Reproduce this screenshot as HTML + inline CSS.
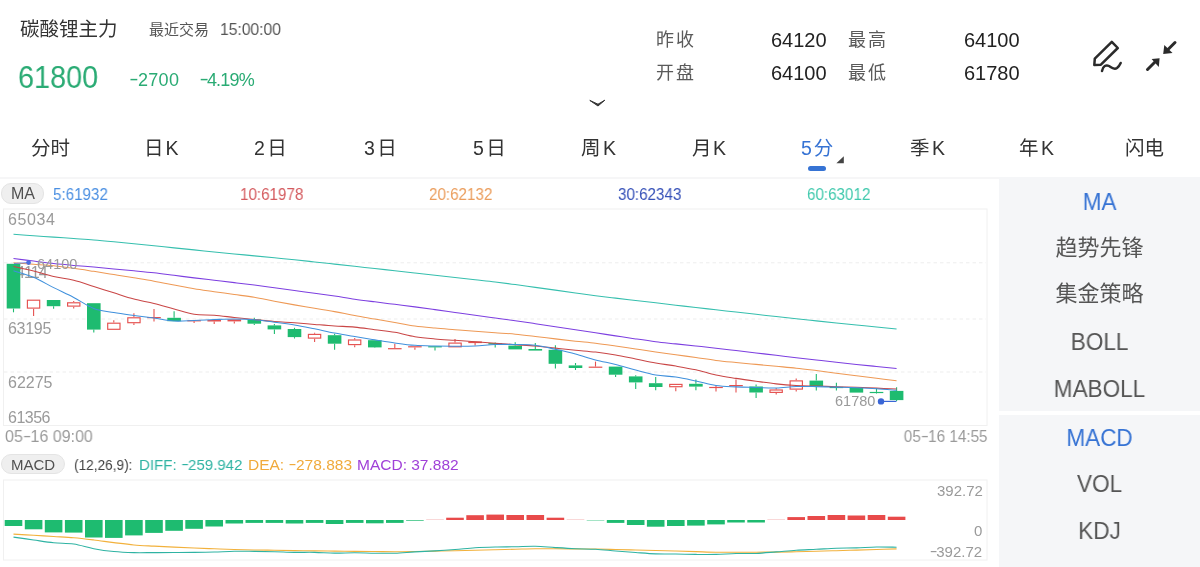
<!DOCTYPE html>
<html><head><meta charset="utf-8">
<style>
*{margin:0;padding:0;box-sizing:border-box}
html,body{width:1200px;height:567px;overflow:hidden;background:#fff}
.a,.tab,.si,.ylab{will-change:transform}
body{position:relative;font-family:"Liberation Sans","Noto Sans CJK SC",sans-serif;color:#333}
.a{position:absolute;white-space:nowrap;line-height:1}
.hy{display:inline-block;transform:scaleX(1.55);margin:0 0.05em 0 0.1em;position:relative;top:-0.06em}
.cj{font-family:"Liberation Sans","Noto Sans CJK SC",sans-serif}
.g{color:#2aab74}
.tab{position:absolute;top:137.2px;font-size:19.5px;line-height:22px;color:#333}
.side{position:absolute;left:999px;width:201px;background:#f5f6f8}
.si{position:absolute;left:999px;width:201px;text-align:center;font-size:23.5px;line-height:1;color:#555;transform:scaleX(0.96)}
.si.cj{font-size:22px;transform:none}
.pill{position:absolute;height:20px;border-radius:10px;background:#efefef;border:1px solid #e4e4e4;color:#444;font-size:15px;line-height:18px;text-align:center}
.ylab{position:absolute;font-size:16px;line-height:1;color:#9a9a9a}
.ml{top:457.4px;font-size:15.5px;transform-origin:0 0}
.lg{top:185.5px;font-size:16.5px;transform:scaleX(0.92);transform-origin:0 0}
</style></head><body>

<!-- header -->
<div class="a cj" id="title" style="left:20px;top:20.2px;font-size:19.5px;color:#333">碳酸锂主力</div>
<div class="a cj" id="zjjy" style="left:149px;top:22px;font-size:15px;color:#555">最近交易</div>
<div class="a" id="time" style="left:219.5px;top:21px;font-size:17px;color:#555;transform:scaleX(0.92);transform-origin:0 0">15:00:00</div>
<div class="a g" id="price" style="left:18.3px;top:62px;font-size:31.5px;transform:scaleX(0.916);transform-origin:0 0">61800</div>
<div class="a g" id="chg" style="left:128.5px;top:70.5px;font-size:18px;letter-spacing:0.3px"><span class="hy">-</span>2700</div>
<div class="a g" id="pct" style="left:199px;top:70.5px;font-size:18px;letter-spacing:-0.8px"><span class="hy">-</span>4.19%</div>

<div class="a cj" style="left:656px;top:31.4px;font-size:18px;letter-spacing:2px;color:#5a5a5a">昨收</div>
<div class="a" style="right:373px;top:29.8px;font-size:20px;color:#222">64120</div>
<div class="a cj" style="left:847.5px;top:31.4px;font-size:18px;letter-spacing:2px;color:#5a5a5a">最高</div>
<div class="a" style="right:180.6px;top:29.8px;font-size:20px;color:#222">64100</div>
<div class="a cj" style="left:655.5px;top:64.4px;font-size:18px;letter-spacing:2px;color:#5a5a5a">开盘</div>
<div class="a" style="right:373px;top:63.2px;font-size:20px;color:#222">64100</div>
<div class="a cj" style="left:847.5px;top:64.4px;font-size:18px;letter-spacing:2px;color:#5a5a5a">最低</div>
<div class="a" style="right:180.6px;top:63.2px;font-size:20px;color:#222">61780</div>

<!-- icons -->
<svg class="a" style="left:0;top:0" width="1200" height="120" viewBox="0 0 1200 120">
  <g fill="none" stroke="#2b2b2b" stroke-width="2.5" stroke-linejoin="round" stroke-linecap="round">
    <path d="M1094.3,65 L1094.8,58.6 L1111.8,41.8 L1117.8,48 L1100.9,64.7 Z"/>
    <path d="M1102,71 C1103,66 1106,64.5 1109,66 C1112,68 1114,70 1117,68 C1119,66.5 1120,64.5 1120.7,63"/>
  </g>
  <g stroke="#2b2b2b" stroke-width="3" stroke-linecap="round">
    <line x1="1175" y1="42.5" x2="1167" y2="50.5"/>
    <line x1="1147.5" y1="69.5" x2="1155.5" y2="61.5"/>
  </g>
  <g fill="#2b2b2b">
    <polygon points="1163.2,54 1164.3,45 1172.5,53"/>
    <polygon points="1159.6,58.2 1151.6,59 1158.8,67"/>
  </g>
  <path d="M589.8,100.4 L598,104.2 L604.8,100.2 L598,106 Z" fill="#333" stroke="#333" stroke-width="1" stroke-linejoin="round"/>
</svg>

<!-- tabs -->
<div class="tab cj" id="tab0" style="left:31.3px">分时</div>
<div class="tab cj" id="tab1" style="left:144.2px;letter-spacing:2px">日K</div>
<div class="tab cj" id="tab2" style="left:254.3px;letter-spacing:2.5px">2日</div>
<div class="tab cj" id="tab3" style="left:363.6px;letter-spacing:2.5px">3日</div>
<div class="tab cj" id="tab4" style="left:472.6px;letter-spacing:2.5px">5日</div>
<div class="tab cj" id="tab5" style="left:581.3px;letter-spacing:2.5px">周K</div>
<div class="tab cj" id="tab6" style="left:692.2px;letter-spacing:1.5px">月K</div>
<div class="tab cj" id="tab7" style="left:800.8px;letter-spacing:2px;color:#3673d4">5分</div>
<div class="tab cj" id="tab8" style="left:910px;letter-spacing:2.5px">季K</div>
<div class="tab cj" id="tab9" style="left:1019px;letter-spacing:2.5px">年K</div>
<div class="tab cj" id="tab10" style="left:1125.3px">闪电</div>
<div style="position:absolute;left:808px;top:166px;width:18px;height:4.5px;border-radius:2.5px;background:#3673d4"></div>
<svg class="a" style="left:836px;top:156px" width="9" height="8"><polygon points="7.8,0.3 7.8,7.3 0.4,7.3" fill="#444"/></svg>

<!-- separator -->
<div style="position:absolute;left:0;top:177px;width:1200px;height:2px;background:#f6f6f7"></div>

<!-- side panel -->
<div class="side" style="top:177px;height:233.5px"></div>
<div class="side" style="top:415px;height:152px"></div>
<div class="si" style="top:191.2px;color:#3673d4">MA</div>
<div class="si cj" style="top:237.2px">趋势先锋</div>
<div class="si cj" style="top:283.4px">集金策略</div>
<div class="si" style="top:331.2px">BOLL</div>
<div class="si" style="top:378px">MABOLL</div>
<div class="si" style="top:427.3px;color:#3673d4">MACD</div>
<div class="si" style="top:473.2px">VOL</div>
<div class="si" style="top:519.8px">KDJ</div>

<!-- MA legend -->
<div class="pill" style="left:1.2px;top:182.9px;width:42.4px;height:20.7px"></div>
<div class="a" style="left:11px;top:186.3px;font-size:16px;color:#505050">MA</div>
<div class="a lg" style="left:52.7px;color:#4a8fe2">5:61932</div>
<div class="a lg" style="left:240px;color:#d45a5e">10:61978</div>
<div class="a lg" style="left:428.8px;color:#eb9d5c">20:62132</div>
<div class="a lg" style="left:618.1px;color:#3550b8">30:62343</div>
<div class="a lg" style="left:806.6px;color:#40c9ad">60:63012</div>

<!-- main chart -->
<svg class="a" style="left:0;top:0" width="1000" height="567" viewBox="0 0 1000 567">
  <rect x="3.5" y="209" width="983.5" height="216.5" fill="none" stroke="#f0f0f0" stroke-width="1"/>
  <g stroke="#ededed" stroke-width="1" stroke-dasharray="3.5,3">
    <line x1="4" y1="262.8" x2="986" y2="262.8"/>
    <line x1="4" y1="319" x2="986" y2="319"/>
    <line x1="4" y1="372" x2="986" y2="372"/>
  </g>
</svg>
<div class="ylab" style="left:7.8px;top:211.8px;letter-spacing:0.6px">65034</div>
<div class="ylab" style="left:7.8px;top:265px;letter-spacing:-0.9px">64114</div>
<div class="ylab" style="left:7.8px;top:320.8px;letter-spacing:-0.3px">63195</div>
<div class="ylab" style="left:7.8px;top:374.6px">62275</div>
<div class="ylab" style="left:7.8px;top:409.5px;letter-spacing:-0.5px">61356</div>
<svg class="a" style="left:0;top:0" width="1000" height="567" viewBox="0 0 1000 567">
<line x1="13.5" y1="308.5" x2="13.5" y2="312.3" stroke="#1ebb70" stroke-width="1.1"/>
<rect x="6.7" y="263.8" width="13.6" height="44.7" fill="#1ebb70"/>
<line x1="33.6" y1="308.8" x2="33.6" y2="315.9" stroke="#e5504f" stroke-width="1.1"/>
<rect x="27.4" y="300.2" width="12.3" height="7.9" fill="#fff" stroke="#e5504f" stroke-width="1.15"/>
<line x1="53.6" y1="306.2" x2="53.6" y2="308.8" stroke="#1ebb70" stroke-width="1.1"/>
<rect x="46.8" y="300.0" width="13.6" height="6.2" fill="#1ebb70"/>
<line x1="73.7" y1="300.9" x2="73.7" y2="302.1" stroke="#e5504f" stroke-width="1.1"/>
<line x1="73.7" y1="306.7" x2="73.7" y2="308.5" stroke="#e5504f" stroke-width="1.1"/>
<rect x="67.6" y="302.8" width="12.3" height="3.3" fill="#fff" stroke="#e5504f" stroke-width="1.15"/>
<line x1="93.8" y1="329.6" x2="93.8" y2="332.6" stroke="#1ebb70" stroke-width="1.1"/>
<rect x="87.0" y="303.2" width="13.6" height="26.4" fill="#1ebb70"/>
<line x1="113.8" y1="320.3" x2="113.8" y2="322.6" stroke="#e5504f" stroke-width="1.1"/>
<rect x="107.7" y="323.2" width="12.3" height="6.1" fill="#fff" stroke="#e5504f" stroke-width="1.15"/>
<line x1="133.9" y1="313.2" x2="133.9" y2="317.1" stroke="#e5504f" stroke-width="1.1"/>
<line x1="133.9" y1="323.3" x2="133.9" y2="325.0" stroke="#e5504f" stroke-width="1.1"/>
<rect x="127.8" y="317.8" width="12.3" height="4.9" fill="#fff" stroke="#e5504f" stroke-width="1.15"/>
<line x1="154.0" y1="308.9" x2="154.0" y2="317.0" stroke="#e5504f" stroke-width="1.1"/>
<line x1="154.0" y1="318.0" x2="154.0" y2="321.6" stroke="#e5504f" stroke-width="1.1"/>
<rect x="147.2" y="317.0" width="13.6" height="1.2" fill="#e5504f"/>
<line x1="174.1" y1="311.3" x2="174.1" y2="317.8" stroke="#1ebb70" stroke-width="1.1"/>
<rect x="167.3" y="317.8" width="13.6" height="3.4" fill="#1ebb70"/>
<line x1="194.1" y1="321.3" x2="194.1" y2="323.0" stroke="#e5504f" stroke-width="1.1"/>
<rect x="187.3" y="320.2" width="13.6" height="1.2" fill="#e5504f"/>
<line x1="214.2" y1="321.5" x2="214.2" y2="324.0" stroke="#e5504f" stroke-width="1.1"/>
<rect x="207.4" y="320.0" width="13.6" height="1.5" fill="#e5504f"/>
<line x1="234.3" y1="321.4" x2="234.3" y2="323.5" stroke="#e5504f" stroke-width="1.1"/>
<rect x="227.5" y="319.4" width="13.6" height="2.0" fill="#e5504f"/>
<line x1="254.3" y1="317.8" x2="254.3" y2="319.5" stroke="#1ebb70" stroke-width="1.1"/>
<line x1="254.3" y1="323.7" x2="254.3" y2="324.9" stroke="#1ebb70" stroke-width="1.1"/>
<rect x="247.5" y="319.5" width="13.6" height="4.2" fill="#1ebb70"/>
<line x1="274.4" y1="324.0" x2="274.4" y2="325.4" stroke="#1ebb70" stroke-width="1.1"/>
<line x1="274.4" y1="329.4" x2="274.4" y2="333.9" stroke="#1ebb70" stroke-width="1.1"/>
<rect x="267.6" y="325.4" width="13.6" height="4.0" fill="#1ebb70"/>
<line x1="294.5" y1="327.8" x2="294.5" y2="329.0" stroke="#1ebb70" stroke-width="1.1"/>
<line x1="294.5" y1="337.1" x2="294.5" y2="338.5" stroke="#1ebb70" stroke-width="1.1"/>
<rect x="287.7" y="329.0" width="13.6" height="8.1" fill="#1ebb70"/>
<line x1="314.6" y1="332.8" x2="314.6" y2="333.8" stroke="#e5504f" stroke-width="1.1"/>
<line x1="314.6" y1="338.8" x2="314.6" y2="341.9" stroke="#e5504f" stroke-width="1.1"/>
<rect x="308.4" y="334.4" width="12.3" height="3.7" fill="#fff" stroke="#e5504f" stroke-width="1.15"/>
<line x1="334.6" y1="333.8" x2="334.6" y2="335.2" stroke="#1ebb70" stroke-width="1.1"/>
<line x1="334.6" y1="343.8" x2="334.6" y2="349.8" stroke="#1ebb70" stroke-width="1.1"/>
<rect x="327.8" y="335.2" width="13.6" height="8.5" fill="#1ebb70"/>
<line x1="354.7" y1="338.0" x2="354.7" y2="339.4" stroke="#e5504f" stroke-width="1.1"/>
<line x1="354.7" y1="345.2" x2="354.7" y2="347.2" stroke="#e5504f" stroke-width="1.1"/>
<rect x="348.5" y="340.0" width="12.3" height="4.6" fill="#fff" stroke="#e5504f" stroke-width="1.15"/>
<line x1="374.8" y1="347.5" x2="374.8" y2="348.1" stroke="#1ebb70" stroke-width="1.1"/>
<rect x="368.0" y="340.2" width="13.6" height="7.2" fill="#1ebb70"/>
<line x1="394.8" y1="343.8" x2="394.8" y2="348.1" stroke="#e5504f" stroke-width="1.1"/>
<rect x="388.0" y="348.1" width="13.6" height="1.2" fill="#e5504f"/>
<line x1="414.9" y1="347.5" x2="414.9" y2="349.8" stroke="#e5504f" stroke-width="1.1"/>
<rect x="408.1" y="346.2" width="13.6" height="1.2" fill="#e5504f"/>
<line x1="435.0" y1="347.2" x2="435.0" y2="350.6" stroke="#1ebb70" stroke-width="1.1"/>
<rect x="428.2" y="346.2" width="13.6" height="1.2" fill="#1ebb70"/>
<line x1="455.0" y1="339.0" x2="455.0" y2="342.5" stroke="#e5504f" stroke-width="1.1"/>
<rect x="448.9" y="343.1" width="12.3" height="3.7" fill="#fff" stroke="#e5504f" stroke-width="1.15"/>
<line x1="475.1" y1="343.1" x2="475.1" y2="345.6" stroke="#e5504f" stroke-width="1.1"/>
<rect x="468.3" y="341.5" width="13.6" height="1.6" fill="#e5504f"/>
<line x1="495.2" y1="342.5" x2="495.2" y2="343.1" stroke="#1ebb70" stroke-width="1.1"/>
<line x1="495.2" y1="344.5" x2="495.2" y2="347.5" stroke="#1ebb70" stroke-width="1.1"/>
<rect x="488.4" y="343.1" width="13.6" height="1.4" fill="#1ebb70"/>
<line x1="515.2" y1="342.2" x2="515.2" y2="345.6" stroke="#1ebb70" stroke-width="1.1"/>
<rect x="508.4" y="345.6" width="13.6" height="3.8" fill="#1ebb70"/>
<line x1="535.3" y1="343.1" x2="535.3" y2="349.0" stroke="#1ebb70" stroke-width="1.1"/>
<rect x="528.5" y="349.0" width="13.6" height="1.6" fill="#1ebb70"/>
<line x1="555.4" y1="345.2" x2="555.4" y2="349.8" stroke="#1ebb70" stroke-width="1.1"/>
<line x1="555.4" y1="363.8" x2="555.4" y2="368.5" stroke="#1ebb70" stroke-width="1.1"/>
<rect x="548.6" y="349.8" width="13.6" height="14.0" fill="#1ebb70"/>
<line x1="575.5" y1="363.0" x2="575.5" y2="365.4" stroke="#1ebb70" stroke-width="1.1"/>
<line x1="575.5" y1="368.0" x2="575.5" y2="370.0" stroke="#1ebb70" stroke-width="1.1"/>
<rect x="568.7" y="365.4" width="13.6" height="2.6" fill="#1ebb70"/>
<line x1="595.5" y1="361.6" x2="595.5" y2="366.6" stroke="#e5504f" stroke-width="1.1"/>
<rect x="588.7" y="366.6" width="13.6" height="1.2" fill="#e5504f"/>
<line x1="615.6" y1="374.8" x2="615.6" y2="377.0" stroke="#1ebb70" stroke-width="1.1"/>
<rect x="608.8" y="366.6" width="13.6" height="8.1" fill="#1ebb70"/>
<line x1="635.7" y1="375.3" x2="635.7" y2="376.4" stroke="#1ebb70" stroke-width="1.1"/>
<line x1="635.7" y1="382.4" x2="635.7" y2="389.1" stroke="#1ebb70" stroke-width="1.1"/>
<rect x="628.9" y="376.4" width="13.6" height="6.0" fill="#1ebb70"/>
<line x1="655.7" y1="377.1" x2="655.7" y2="383.2" stroke="#1ebb70" stroke-width="1.1"/>
<line x1="655.7" y1="387.0" x2="655.7" y2="390.3" stroke="#1ebb70" stroke-width="1.1"/>
<rect x="648.9" y="383.2" width="13.6" height="3.8" fill="#1ebb70"/>
<line x1="675.8" y1="387.4" x2="675.8" y2="391.3" stroke="#e5504f" stroke-width="1.1"/>
<rect x="669.7" y="384.4" width="12.3" height="2.3" fill="#fff" stroke="#e5504f" stroke-width="1.15"/>
<line x1="695.9" y1="379.5" x2="695.9" y2="383.8" stroke="#1ebb70" stroke-width="1.1"/>
<line x1="695.9" y1="386.6" x2="695.9" y2="390.3" stroke="#1ebb70" stroke-width="1.1"/>
<rect x="689.1" y="383.8" width="13.6" height="2.8" fill="#1ebb70"/>
<line x1="716.0" y1="385.6" x2="716.0" y2="386.9" stroke="#e5504f" stroke-width="1.1"/>
<line x1="716.0" y1="387.8" x2="716.0" y2="391.5" stroke="#e5504f" stroke-width="1.1"/>
<rect x="709.2" y="386.9" width="13.6" height="1.2" fill="#e5504f"/>
<line x1="736.0" y1="379.4" x2="736.0" y2="385.0" stroke="#e5504f" stroke-width="1.1"/>
<line x1="736.0" y1="386.0" x2="736.0" y2="392.5" stroke="#e5504f" stroke-width="1.1"/>
<rect x="729.2" y="385.0" width="13.6" height="1.2" fill="#e5504f"/>
<line x1="756.1" y1="384.4" x2="756.1" y2="386.5" stroke="#1ebb70" stroke-width="1.1"/>
<line x1="756.1" y1="392.5" x2="756.1" y2="398.1" stroke="#1ebb70" stroke-width="1.1"/>
<rect x="749.3" y="386.5" width="13.6" height="6.0" fill="#1ebb70"/>
<line x1="776.2" y1="388.0" x2="776.2" y2="389.4" stroke="#e5504f" stroke-width="1.1"/>
<line x1="776.2" y1="393.1" x2="776.2" y2="394.4" stroke="#e5504f" stroke-width="1.1"/>
<rect x="770.0" y="390.0" width="12.3" height="2.4" fill="#fff" stroke="#e5504f" stroke-width="1.15"/>
<line x1="796.2" y1="378.5" x2="796.2" y2="380.2" stroke="#e5504f" stroke-width="1.1"/>
<line x1="796.2" y1="389.8" x2="796.2" y2="391.5" stroke="#e5504f" stroke-width="1.1"/>
<rect x="790.1" y="380.9" width="12.3" height="8.2" fill="#fff" stroke="#e5504f" stroke-width="1.15"/>
<line x1="816.3" y1="374.0" x2="816.3" y2="380.6" stroke="#1ebb70" stroke-width="1.1"/>
<line x1="816.3" y1="386.2" x2="816.3" y2="390.6" stroke="#1ebb70" stroke-width="1.1"/>
<rect x="809.5" y="380.6" width="13.6" height="5.6" fill="#1ebb70"/>
<line x1="836.4" y1="382.8" x2="836.4" y2="386.9" stroke="#1ebb70" stroke-width="1.1"/>
<line x1="836.4" y1="387.8" x2="836.4" y2="390.6" stroke="#1ebb70" stroke-width="1.1"/>
<rect x="829.6" y="386.9" width="13.6" height="1.2" fill="#1ebb70"/>
<rect x="849.6" y="388.0" width="13.6" height="4.6" fill="#1ebb70"/>
<line x1="876.5" y1="388.0" x2="876.5" y2="391.9" stroke="#1ebb70" stroke-width="1.1"/>
<line x1="876.5" y1="392.8" x2="876.5" y2="393.5" stroke="#1ebb70" stroke-width="1.1"/>
<rect x="869.7" y="391.9" width="13.6" height="1.2" fill="#1ebb70"/>
<line x1="896.6" y1="387.3" x2="896.6" y2="390.9" stroke="#1ebb70" stroke-width="1.1"/>
<line x1="896.6" y1="400.1" x2="896.6" y2="401.0" stroke="#1ebb70" stroke-width="1.1"/>
<rect x="889.8" y="390.9" width="13.6" height="9.2" fill="#1ebb70"/>
<path d="M13.50,234.30 C16.84,234.53 26.88,235.22 33.57,235.69 C40.26,236.16 46.95,236.64 53.64,237.11 C60.33,237.59 67.02,238.06 73.71,238.54 C80.40,239.01 87.09,239.42 93.78,239.96 C100.47,240.50 107.16,241.15 113.85,241.80 C120.54,242.44 127.23,243.14 133.92,243.82 C140.61,244.49 147.30,245.17 153.99,245.84 C160.68,246.52 167.37,247.19 174.06,247.87 C180.75,248.54 187.44,249.21 194.13,249.89 C200.82,250.56 207.51,251.24 214.20,251.91 C220.89,252.58 227.58,253.24 234.27,253.90 C240.96,254.56 247.65,255.20 254.34,255.86 C261.03,256.51 267.72,257.16 274.41,257.81 C281.10,258.46 287.79,259.08 294.48,259.76 C301.17,260.44 307.86,261.18 314.55,261.90 C321.24,262.62 327.93,263.37 334.62,264.11 C341.31,264.84 348.00,265.58 354.69,266.32 C361.38,267.05 368.07,267.79 374.76,268.52 C381.45,269.26 388.14,269.99 394.83,270.73 C401.52,271.47 408.21,272.22 414.90,272.97 C421.59,273.72 428.28,274.47 434.97,275.22 C441.66,275.97 448.35,276.72 455.04,277.46 C461.73,278.21 468.42,278.96 475.11,279.71 C481.80,280.46 488.49,281.14 495.18,281.96 C501.87,282.78 508.56,283.70 515.25,284.60 C521.94,285.51 528.63,286.45 535.32,287.37 C542.01,288.30 548.70,289.22 555.39,290.14 C562.08,291.07 568.77,291.99 575.46,292.91 C582.15,293.84 588.84,294.81 595.53,295.68 C602.22,296.55 608.91,297.33 615.60,298.13 C622.29,298.92 628.98,299.69 635.67,300.47 C642.36,301.26 649.05,302.04 655.74,302.82 C662.43,303.60 669.12,304.39 675.81,305.17 C682.50,305.95 689.19,306.75 695.88,307.52 C702.57,308.29 709.26,309.03 715.95,309.79 C722.64,310.54 729.33,311.28 736.02,312.03 C742.71,312.78 749.40,313.53 756.09,314.28 C762.78,315.03 769.47,315.78 776.16,316.53 C782.85,317.28 789.54,318.06 796.23,318.78 C802.92,319.50 809.61,320.17 816.30,320.86 C822.99,321.55 829.68,322.23 836.37,322.91 C843.06,323.60 849.75,324.28 856.44,324.96 C863.13,325.64 869.82,326.34 876.51,327.01 C883.20,327.68 893.24,328.67 896.58,329.00" fill="none" stroke="#36bfae" stroke-width="1.05" stroke-linejoin="round"/>
<path d="M13.50,258.60 C16.84,259.00 26.88,260.21 33.57,261.02 C40.26,261.84 46.95,262.78 53.64,263.51 C60.33,264.25 67.02,264.84 73.71,265.43 C80.40,266.03 87.09,266.51 93.78,267.09 C100.47,267.67 107.16,268.28 113.85,268.90 C120.54,269.52 127.23,270.14 133.92,270.79 C140.61,271.44 147.30,272.05 153.99,272.81 C160.68,273.57 167.37,274.50 174.06,275.35 C180.75,276.19 187.44,277.07 194.13,277.89 C200.82,278.71 207.51,279.48 214.20,280.27 C220.89,281.06 227.58,281.84 234.27,282.64 C240.96,283.44 247.65,284.23 254.34,285.09 C261.03,285.94 267.72,286.89 274.41,287.80 C281.10,288.70 287.79,289.60 294.48,290.50 C301.17,291.41 307.86,292.29 314.55,293.21 C321.24,294.13 327.93,295.03 334.62,296.02 C341.31,297.02 348.00,298.20 354.69,299.17 C361.38,300.14 368.07,300.98 374.76,301.85 C381.45,302.71 388.14,303.52 394.83,304.35 C401.52,305.19 408.21,305.98 414.90,306.86 C421.59,307.74 428.28,308.69 434.97,309.63 C441.66,310.56 448.35,311.53 455.04,312.48 C461.73,313.42 468.42,314.37 475.11,315.28 C481.80,316.20 488.49,317.08 495.18,317.97 C501.87,318.87 508.56,319.72 515.25,320.66 C521.94,321.61 528.63,322.64 535.32,323.66 C542.01,324.67 548.70,325.72 555.39,326.75 C562.08,327.78 568.77,328.81 575.46,329.82 C582.15,330.83 588.84,331.82 595.53,332.83 C602.22,333.84 608.91,334.86 615.60,335.87 C622.29,336.89 628.98,337.95 635.67,338.92 C642.36,339.90 649.05,340.89 655.74,341.72 C662.43,342.54 669.12,343.15 675.81,343.87 C682.50,344.58 689.19,345.30 695.88,346.02 C702.57,346.73 709.26,347.41 715.95,348.17 C722.64,348.92 729.33,349.73 736.02,350.52 C742.71,351.32 749.40,352.13 756.09,352.93 C762.78,353.73 769.47,354.54 776.16,355.34 C782.85,356.14 789.54,356.97 796.23,357.75 C802.92,358.53 809.61,359.27 816.30,360.03 C822.99,360.78 829.68,361.54 836.37,362.27 C843.06,363.01 849.75,363.75 856.44,364.44 C863.13,365.14 869.82,365.79 876.51,366.45 C883.20,367.11 893.24,368.08 896.58,368.40" fill="none" stroke="#7d3fe0" stroke-width="1.05" stroke-linejoin="round"/>
<path d="M13.50,262.80 C16.84,263.04 26.88,263.76 33.57,264.25 C40.26,264.73 46.95,265.06 53.64,265.73 C60.33,266.40 67.02,267.35 73.71,268.29 C80.40,269.23 87.09,270.31 93.78,271.35 C100.47,272.39 107.16,273.47 113.85,274.54 C120.54,275.62 127.23,276.69 133.92,277.80 C140.61,278.90 147.30,279.96 153.99,281.16 C160.68,282.36 167.37,283.72 174.06,285.00 C180.75,286.28 187.44,287.72 194.13,288.83 C200.82,289.95 207.51,290.74 214.20,291.69 C220.89,292.63 227.58,293.56 234.27,294.50 C240.96,295.43 247.65,296.18 254.34,297.31 C261.03,298.44 267.72,300.01 274.41,301.27 C281.10,302.53 287.79,303.73 294.48,304.87 C301.17,306.02 307.86,307.04 314.55,308.17 C321.24,309.29 327.93,310.40 334.62,311.64 C341.31,312.87 348.00,314.33 354.69,315.56 C361.38,316.80 368.07,317.89 374.76,319.05 C381.45,320.21 388.14,321.37 394.83,322.53 C401.52,323.69 408.21,325.09 414.90,326.01 C421.59,326.94 428.28,327.48 434.97,328.10 C441.66,328.71 448.35,329.17 455.04,329.70 C461.73,330.23 468.42,330.77 475.11,331.27 C481.80,331.77 488.49,332.23 495.18,332.71 C501.87,333.19 508.56,333.54 515.25,334.16 C521.94,334.77 528.63,335.61 535.32,336.40 C542.01,337.19 548.70,338.08 555.39,338.89 C562.08,339.70 568.77,340.52 575.46,341.25 C582.15,341.97 588.84,342.46 595.53,343.25 C602.22,344.05 608.91,345.05 615.60,346.01 C622.29,346.96 628.98,348.00 635.67,348.98 C642.36,349.96 649.05,350.95 655.74,351.90 C662.43,352.86 669.12,353.77 675.81,354.71 C682.50,355.66 689.19,356.61 695.88,357.56 C702.57,358.51 709.26,359.60 715.95,360.42 C722.64,361.25 729.33,361.84 736.02,362.50 C742.71,363.16 749.40,363.76 756.09,364.38 C762.78,365.01 769.47,365.64 776.16,366.26 C782.85,366.89 789.54,367.43 796.23,368.15 C802.92,368.87 809.61,369.75 816.30,370.59 C822.99,371.42 829.68,372.30 836.37,373.16 C843.06,374.01 849.75,374.87 856.44,375.73 C863.13,376.58 869.82,377.45 876.51,378.30 C883.20,379.15 893.24,380.38 896.58,380.80" fill="none" stroke="#ee9955" stroke-width="1.05" stroke-linejoin="round"/>
<path d="M13.50,266.50 C16.84,267.25 26.88,269.33 33.57,271.02 C40.26,272.70 46.95,275.07 53.64,276.61 C60.33,278.15 67.02,278.61 73.71,280.25 C80.40,281.89 87.09,284.36 93.78,286.46 C100.47,288.56 107.16,290.76 113.85,292.86 C120.54,294.97 127.23,297.33 133.92,299.08 C140.61,300.84 147.30,301.76 153.99,303.41 C160.68,305.07 167.37,307.20 174.06,309.02 C180.75,310.83 187.44,313.27 194.13,314.31 C200.82,315.34 207.51,314.70 214.20,315.22 C220.89,315.75 227.58,316.73 234.27,317.46 C240.96,318.19 247.65,318.91 254.34,319.58 C261.03,320.25 267.72,320.95 274.41,321.48 C281.10,322.01 287.79,322.26 294.48,322.75 C301.17,323.24 307.86,323.87 314.55,324.41 C321.24,324.94 327.93,325.51 334.62,325.96 C341.31,326.41 348.00,326.48 354.69,327.11 C361.38,327.74 368.07,328.85 374.76,329.72 C381.45,330.59 388.14,331.17 394.83,332.33 C401.52,333.48 408.21,335.55 414.90,336.65 C421.59,337.75 428.28,338.33 434.97,338.95 C441.66,339.56 448.35,339.88 455.04,340.35 C461.73,340.82 468.42,341.29 475.11,341.77 C481.80,342.24 488.49,342.73 495.18,343.21 C501.87,343.69 508.56,344.19 515.25,344.66 C521.94,345.13 528.63,345.45 535.32,346.03 C542.01,346.61 548.70,347.45 555.39,348.14 C562.08,348.84 568.77,349.55 575.46,350.21 C582.15,350.87 588.84,351.30 595.53,352.08 C602.22,352.87 608.91,353.77 615.60,354.92 C622.29,356.07 628.98,357.65 635.67,359.00 C642.36,360.34 649.05,361.81 655.74,362.99 C662.43,364.17 669.12,364.96 675.81,366.10 C682.50,367.24 689.19,368.34 695.88,369.83 C702.57,371.32 709.26,373.62 715.95,375.05 C722.64,376.47 729.33,377.35 736.02,378.38 C742.71,379.42 749.40,380.33 756.09,381.24 C762.78,382.16 769.47,383.17 776.16,383.87 C782.85,384.57 789.54,385.08 796.23,385.45 C802.92,385.82 809.61,385.88 816.30,386.09 C822.99,386.30 829.68,386.48 836.37,386.69 C843.06,386.90 849.75,387.11 856.44,387.35 C863.13,387.59 869.82,387.88 876.51,388.14 C883.20,388.40 893.24,388.77 896.58,388.90" fill="none" stroke="#c94646" stroke-width="1.05" stroke-linejoin="round"/>
<path d="M13.50,270.80 C16.84,271.87 26.88,274.43 33.57,277.24 C40.26,280.05 46.95,284.28 53.64,287.65 C60.33,291.03 67.02,294.00 73.71,297.47 C80.40,300.93 87.09,305.96 93.78,308.46 C100.47,310.97 107.16,311.33 113.85,312.50 C120.54,313.66 127.23,314.52 133.92,315.45 C140.61,316.38 147.30,317.17 153.99,318.10 C160.68,319.02 167.37,320.60 174.06,321.00 C180.75,321.40 187.44,320.74 194.13,320.51 C200.82,320.28 207.51,319.85 214.20,319.59 C220.89,319.34 227.58,318.97 234.27,318.98 C240.96,318.99 247.65,319.12 254.34,319.66 C261.03,320.20 267.72,321.36 274.41,322.23 C281.10,323.11 287.79,323.81 294.48,324.91 C301.17,326.01 307.86,327.48 314.55,328.85 C321.24,330.21 327.93,331.81 334.62,333.10 C341.31,334.39 348.00,335.46 354.69,336.58 C361.38,337.70 368.07,338.75 374.76,339.81 C381.45,340.87 388.14,342.02 394.83,342.94 C401.52,343.87 408.21,344.84 414.90,345.35 C421.59,345.86 428.28,345.88 434.97,346.02 C441.66,346.16 448.35,346.19 455.04,346.18 C461.73,346.17 468.42,346.21 475.11,345.93 C481.80,345.65 488.49,344.74 495.18,344.50 C501.87,344.26 508.56,344.37 515.25,344.50 C521.94,344.63 528.63,344.47 535.32,345.27 C542.01,346.06 548.70,347.84 555.39,349.28 C562.08,350.73 568.77,352.16 575.46,353.94 C582.15,355.72 588.84,358.21 595.53,359.96 C602.22,361.71 608.91,362.74 615.60,364.42 C622.29,366.10 628.98,368.29 635.67,370.05 C642.36,371.82 649.05,373.82 655.74,374.99 C662.43,376.16 669.12,376.07 675.81,377.07 C682.50,378.07 689.19,379.59 695.88,380.99 C702.57,382.40 709.26,384.51 715.95,385.49 C722.64,386.47 729.33,386.55 736.02,386.88 C742.71,387.21 749.40,387.30 756.09,387.48 C762.78,387.67 769.47,388.16 776.16,388.00 C782.85,387.85 789.54,386.79 796.23,386.56 C802.92,386.33 809.61,386.52 816.30,386.62 C822.99,386.72 829.68,386.96 836.37,387.14 C843.06,387.32 849.75,387.46 856.44,387.71 C863.13,387.96 869.82,388.22 876.51,388.65 C883.20,389.08 893.24,390.03 896.58,390.30" fill="none" stroke="#3f90dc" stroke-width="1.05" stroke-linejoin="round"/>
  <line x1="14" y1="263.5" x2="28.6" y2="262.6" stroke="#4a6ee0" stroke-width="0.8"/>
  <circle cx="28.6" cy="262.6" r="2.4" fill="#4a6ee0"/>
  <line x1="881" y1="401.4" x2="896.5" y2="401.4" stroke="#3a66d6" stroke-width="1.2"/>
  <circle cx="881" cy="401.4" r="3.2" fill="#3a66d6"/>
</svg>
<div class="ylab" style="left:37.2px;top:256.8px;font-size:14.5px">64100</div>
<div class="ylab" style="left:835px;top:394px;font-size:14.5px">61780</div>
<div class="ylab" id="t0" style="left:4.5px;top:427.9px;font-size:16.5px;transform:scaleX(0.97);transform-origin:0 0">05<span class="hy">-</span>16 09:00</div>
<div class="ylab" id="t1" style="right:212px;top:427.9px;font-size:16.5px;transform:scaleX(0.925);transform-origin:100% 0">05<span class="hy">-</span>16 14:55</div>

<!-- MACD legend -->
<div class="pill" style="left:1.4px;top:454.4px;width:63.9px;height:20.1px"></div>
<div class="a" style="left:11px;top:457px;font-size:15px;color:#505050">MACD</div>
<div class="a ml" style="left:74.2px;color:#444;transform:scaleX(0.88)">(12,26,9):</div>
<div class="a ml" style="left:138.5px;color:#2fb3a3;transform:scaleX(0.97)">DIFF: <span class="hy">-</span>259.942</div>
<div class="a ml" style="left:248.2px;color:#f0aa3c;transform:scaleX(1.0)">DEA: <span class="hy">-</span>278.883</div>
<div class="a ml" style="left:357px;color:#a040d8;transform:scaleX(1.0)">MACD: 37.882</div>

<!-- MACD chart -->
<svg class="a" style="left:0;top:0" width="1000" height="567" viewBox="0 0 1000 567">
  <rect x="3.5" y="480" width="983.5" height="80" fill="none" stroke="#f0f0f0" stroke-width="1"/>
<rect x="4.7" y="520.0" width="17.6" height="6.0" fill="#1ebb70"/>
<rect x="24.8" y="520.0" width="17.6" height="9.3" fill="#1ebb70"/>
<rect x="44.8" y="520.0" width="17.6" height="12.4" fill="#1ebb70"/>
<rect x="64.9" y="520.0" width="17.6" height="12.6" fill="#1ebb70"/>
<rect x="85.0" y="520.0" width="17.6" height="17.5" fill="#1ebb70"/>
<rect x="105.0" y="520.0" width="17.6" height="17.9" fill="#1ebb70"/>
<rect x="125.1" y="520.0" width="17.6" height="15.4" fill="#1ebb70"/>
<rect x="145.2" y="520.0" width="17.6" height="12.9" fill="#1ebb70"/>
<rect x="165.3" y="520.0" width="17.6" height="10.8" fill="#1ebb70"/>
<rect x="185.3" y="520.0" width="17.6" height="8.8" fill="#1ebb70"/>
<rect x="205.4" y="520.0" width="17.6" height="6.5" fill="#1ebb70"/>
<rect x="225.5" y="520.0" width="17.6" height="3.5" fill="#1ebb70"/>
<rect x="245.5" y="520.0" width="17.6" height="2.9" fill="#1ebb70"/>
<rect x="265.6" y="520.0" width="17.6" height="2.9" fill="#1ebb70"/>
<rect x="285.7" y="520.0" width="17.6" height="3.5" fill="#1ebb70"/>
<rect x="305.8" y="520.0" width="17.6" height="2.9" fill="#1ebb70"/>
<rect x="325.8" y="520.0" width="17.6" height="4.0" fill="#1ebb70"/>
<rect x="345.9" y="520.0" width="17.6" height="2.9" fill="#1ebb70"/>
<rect x="366.0" y="520.0" width="17.6" height="3.3" fill="#1ebb70"/>
<rect x="386.0" y="520.0" width="17.6" height="2.9" fill="#1ebb70"/>
<rect x="406.1" y="520.0" width="17.6" height="0.7" fill="#1ebb70"/>
<rect x="426.2" y="519.5" width="17.6" height="0.5" fill="#f3b0b0"/>
<rect x="446.2" y="517.7" width="17.6" height="2.3" fill="#e84a4a"/>
<rect x="466.3" y="515.2" width="17.6" height="4.8" fill="#e84a4a"/>
<rect x="486.4" y="514.6" width="17.6" height="5.4" fill="#e84a4a"/>
<rect x="506.4" y="515.0" width="17.6" height="5.0" fill="#e84a4a"/>
<rect x="526.5" y="515.0" width="17.6" height="5.0" fill="#e84a4a"/>
<rect x="546.6" y="517.7" width="17.6" height="2.3" fill="#e84a4a"/>
<rect x="566.7" y="519.5" width="17.6" height="0.5" fill="#f3b0b0"/>
<rect x="586.7" y="520.0" width="17.6" height="0.4" fill="#1ebb70"/>
<rect x="606.8" y="520.0" width="17.6" height="2.9" fill="#1ebb70"/>
<rect x="626.9" y="520.0" width="17.6" height="5.0" fill="#1ebb70"/>
<rect x="646.9" y="520.0" width="17.6" height="6.7" fill="#1ebb70"/>
<rect x="667.0" y="520.0" width="17.6" height="6.0" fill="#1ebb70"/>
<rect x="687.1" y="520.0" width="17.6" height="5.6" fill="#1ebb70"/>
<rect x="707.2" y="520.0" width="17.6" height="4.4" fill="#1ebb70"/>
<rect x="727.2" y="520.0" width="17.6" height="2.5" fill="#1ebb70"/>
<rect x="747.3" y="520.0" width="17.6" height="2.5" fill="#1ebb70"/>
<rect x="767.4" y="519.5" width="17.6" height="0.5" fill="#f3b0b0"/>
<rect x="787.4" y="517.1" width="17.6" height="2.9" fill="#e84a4a"/>
<rect x="807.5" y="516.0" width="17.6" height="4.0" fill="#e84a4a"/>
<rect x="827.6" y="515.0" width="17.6" height="5.0" fill="#e84a4a"/>
<rect x="847.6" y="515.5" width="17.6" height="4.5" fill="#e84a4a"/>
<rect x="867.7" y="515.0" width="17.6" height="5.0" fill="#e84a4a"/>
<rect x="887.8" y="516.7" width="17.6" height="3.3" fill="#e84a4a"/>
  <path d="M13.50,534.10 C16.84,534.30 26.88,534.91 33.57,535.31 C40.26,535.71 46.95,536.12 53.64,536.52 C60.33,536.92 67.02,537.15 73.71,537.72 C80.40,538.29 87.09,539.12 93.78,539.94 C100.47,540.75 107.16,541.77 113.85,542.60 C120.54,543.43 127.23,544.35 133.92,544.94 C140.61,545.53 147.30,545.77 153.99,546.14 C160.68,546.51 167.37,546.82 174.06,547.13 C180.75,547.45 187.44,547.76 194.13,548.04 C200.82,548.31 207.51,548.55 214.20,548.80 C220.89,549.04 227.58,549.31 234.27,549.50 C240.96,549.69 247.65,549.81 254.34,549.93 C261.03,550.06 267.72,550.15 274.41,550.26 C281.10,550.37 287.79,550.48 294.48,550.59 C301.17,550.69 307.86,550.82 314.55,550.91 C321.24,551.00 327.93,551.07 334.62,551.15 C341.31,551.22 348.00,551.28 354.69,551.35 C361.38,551.41 368.07,551.48 374.76,551.55 C381.45,551.61 388.14,551.76 394.83,551.75 C401.52,551.74 408.21,551.61 414.90,551.50 C421.59,551.39 428.28,551.23 434.97,551.10 C441.66,550.97 448.35,550.85 455.04,550.70 C461.73,550.55 468.42,550.39 475.11,550.22 C481.80,550.06 488.49,549.89 495.18,549.72 C501.87,549.55 508.56,549.39 515.25,549.22 C521.94,549.05 528.63,548.80 535.32,548.72 C542.01,548.64 548.70,548.70 555.39,548.73 C562.08,548.76 568.77,548.84 575.46,548.90 C582.15,548.95 588.84,548.96 595.53,549.06 C602.22,549.16 608.91,549.34 615.60,549.49 C622.29,549.64 628.98,549.82 635.67,549.99 C642.36,550.16 649.05,550.32 655.74,550.49 C662.43,550.67 669.12,550.86 675.81,551.05 C682.50,551.24 689.19,551.43 695.88,551.62 C702.57,551.81 709.26,552.08 715.95,552.19 C722.64,552.29 729.33,552.25 736.02,552.25 C742.71,552.25 749.40,552.20 756.09,552.18 C762.78,552.16 769.47,552.19 776.16,552.11 C782.85,552.04 789.54,551.87 796.23,551.73 C802.92,551.60 809.61,551.45 816.30,551.28 C822.99,551.11 829.68,550.90 836.37,550.70 C843.06,550.51 849.75,550.30 856.44,550.10 C863.13,549.89 869.82,549.69 876.51,549.49 C883.20,549.29 893.24,549.00 896.58,548.90" fill="none" stroke="#f2b13c" stroke-width="1.1"/>
  <path d="M13.50,537.10 C16.84,537.58 26.88,539.03 33.57,539.96 C40.26,540.90 46.95,542.04 53.64,542.72 C60.33,543.40 67.02,543.03 73.71,544.02 C80.40,545.02 87.09,547.43 93.78,548.69 C100.47,549.94 107.16,550.89 113.85,551.55 C120.54,552.21 127.23,552.46 133.92,552.64 C140.61,552.81 147.30,552.61 153.99,552.59 C160.68,552.57 167.37,552.56 174.06,552.53 C180.75,552.50 187.44,552.49 194.13,552.41 C200.82,552.33 207.51,552.24 214.20,552.05 C220.89,551.85 227.58,551.36 234.27,551.25 C240.96,551.14 247.65,551.31 254.34,551.38 C261.03,551.46 267.72,551.55 274.41,551.71 C281.10,551.87 287.79,552.23 294.48,552.34 C301.17,552.44 307.86,552.23 314.55,552.36 C321.24,552.50 327.93,553.07 334.62,553.15 C341.31,553.22 348.00,552.79 354.69,552.80 C361.38,552.81 368.07,553.13 374.76,553.20 C381.45,553.26 388.14,553.42 394.83,553.20 C401.52,552.97 408.21,552.23 414.90,551.85 C421.59,551.47 428.28,551.28 434.97,550.90 C441.66,550.52 448.35,550.06 455.04,549.55 C461.73,549.04 468.42,548.24 475.11,547.82 C481.80,547.40 488.49,547.20 495.18,547.02 C501.87,546.84 508.56,546.85 515.25,546.72 C521.94,546.58 528.63,546.07 535.32,546.22 C542.01,546.36 548.70,547.17 555.39,547.58 C562.08,547.99 568.77,548.41 575.46,548.70 C582.15,548.98 588.84,548.89 595.53,549.26 C602.22,549.64 608.91,550.40 615.60,550.94 C622.29,551.48 628.98,552.01 635.67,552.49 C642.36,552.98 649.05,553.58 655.74,553.84 C662.43,554.10 669.12,553.95 675.81,554.05 C682.50,554.14 689.19,554.36 695.88,554.42 C702.57,554.47 709.26,554.54 715.95,554.39 C722.64,554.23 729.33,553.66 736.02,553.50 C742.71,553.34 749.40,553.69 756.09,553.43 C762.78,553.17 769.47,552.44 776.16,551.91 C782.85,551.39 789.54,550.72 796.23,550.28 C802.92,549.85 809.61,549.63 816.30,549.28 C822.99,548.94 829.68,548.44 836.37,548.20 C843.06,547.97 849.75,548.05 856.44,547.85 C863.13,547.64 869.82,547.09 876.51,546.99 C883.20,546.89 893.24,547.21 896.58,547.25" fill="none" stroke="#2fb3a3" stroke-width="1.1"/>
</svg>
<div class="ylab" style="right:217.5px;top:483.2px;font-size:15px">392.72</div>
<div class="ylab" style="right:217.5px;top:523.4px;font-size:15px">0</div>
<div class="ylab" style="right:217.5px;top:544px;font-size:15px"><span class="hy">-</span>392.72</div>

</body></html>
